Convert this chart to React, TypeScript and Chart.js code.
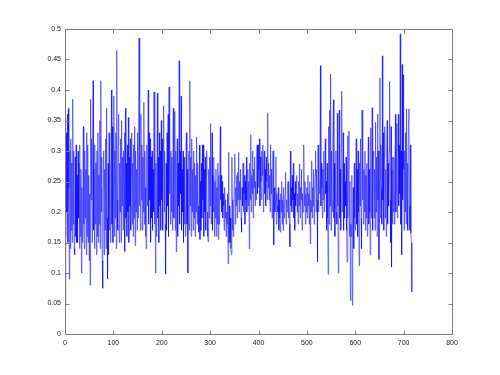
import React, { useEffect, useRef } from "react";
import { Chart, registerables } from "chart.js";

Chart.register(...registerables);

// Signal values, index 0..717 (in blocks of 20 samples)
const block00 = [0.05, 0.27, 0.16, 0.33, 0.2, 0.36, 0.15, 0.37, 0.24, 0.09, 0.3, 0.14, 0.32, 0.17, 0.28, 0.15, 0.385, 0.18, 0.3, 0.14];
const block01 = [0.13, 0.29, 0.16, 0.31, 0.15, 0.26, 0.15, 0.3, 0.19, 0.28, 0.14, 0.31, 0.16, 0.27, 0.1, 0.24, 0.15, 0.29, 0.34, 0.18];
const block02 = [0.14, 0.3, 0.19, 0.27, 0.13, 0.33, 0.16, 0.31, 0.15, 0.26, 0.12, 0.23, 0.08, 0.385, 0.22, 0.32, 0.15, 0.29, 0.415, 0.17];
const block03 = [0.27, 0.14, 0.31, 0.18, 0.28, 0.13, 0.3, 0.16, 0.33, 0.15, 0.26, 0.18, 0.35, 0.14, 0.415, 0.2, 0.29, 0.12, 0.075, 0.24];
const block04 = [0.3, 0.13, 0.27, 0.17, 0.32, 0.14, 0.37, 0.19, 0.09, 0.28, 0.13, 0.33, 0.17, 0.29, 0.15, 0.26, 0.4, 0.18, 0.34, 0.15];
const block05 = [0.25, 0.39, 0.16, 0.3, 0.19, 0.33, 0.14, 0.465, 0.22, 0.17, 0.31, 0.36, 0.15, 0.28, 0.2, 0.32, 0.15, 0.35, 0.21, 0.29];
const block06 = [0.17, 0.3, 0.22, 0.33, 0.135, 0.37, 0.19, 0.28, 0.16, 0.31, 0.2, 0.355, 0.15, 0.29, 0.21, 0.32, 0.17, 0.27, 0.33, 0.18];
const block07 = [0.28, 0.16, 0.31, 0.19, 0.34, 0.145, 0.3, 0.2, 0.27, 0.17, 0.33, 0.19, 0.3, 0.485, 0.21, 0.29, 0.17, 0.36, 0.22, 0.31];
const block08 = [0.17, 0.29, 0.2, 0.38, 0.18, 0.3, 0.24, 0.16, 0.14, 0.31, 0.21, 0.28, 0.4, 0.18, 0.33, 0.22, 0.32, 0.15, 0.29, 0.19];
const block09 = [0.3, 0.17, 0.27, 0.2, 0.397, 0.18, 0.375, 0.1, 0.28, 0.16, 0.31, 0.395, 0.19, 0.29, 0.15, 0.33, 0.21, 0.3, 0.17, 0.35];
const block10 = [0.22, 0.32, 0.17, 0.29, 0.374, 0.2, 0.3, 0.18, 0.098, 0.28, 0.17, 0.33, 0.21, 0.36, 0.16, 0.405, 0.23, 0.31, 0.18, 0.3];
const block11 = [0.2, 0.29, 0.17, 0.33, 0.37, 0.19, 0.28, 0.365, 0.17, 0.3, 0.135, 0.26, 0.32, 0.16, 0.28, 0.21, 0.448, 0.18, 0.3, 0.23];
const block12 = [0.39, 0.17, 0.27, 0.2, 0.3, 0.15, 0.29, 0.18, 0.26, 0.16, 0.31, 0.33, 0.18, 0.27, 0.1, 0.21, 0.3, 0.17, 0.415, 0.21];
const block13 = [0.29, 0.16, 0.32, 0.2, 0.27, 0.17, 0.3, 0.19, 0.28, 0.16, 0.26, 0.2, 0.323, 0.18, 0.28, 0.21, 0.18, 0.167, 0.31, 0.155];
const block14 = [0.25, 0.17, 0.28, 0.19, 0.31, 0.22, 0.31, 0.16, 0.27, 0.2, 0.29, 0.17, 0.26, 0.3, 0.2, 0.16, 0.151, 0.27, 0.19, 0.29];
const block15 = [0.21, 0.345, 0.18, 0.27, 0.33, 0.17, 0.26, 0.2, 0.29, 0.16, 0.25, 0.19, 0.27, 0.16, 0.24, 0.18, 0.28, 0.155, 0.26, 0.18];
const block16 = [0.28, 0.34, 0.22, 0.26, 0.2, 0.25, 0.19, 0.23, 0.21, 0.17, 0.24, 0.19, 0.22, 0.16, 0.2, 0.18, 0.23, 0.115, 0.298, 0.15];
const block17 = [0.21, 0.15, 0.19, 0.14, 0.13, 0.29, 0.17, 0.22, 0.16, 0.2, 0.25, 0.295, 0.18, 0.24, 0.21, 0.26, 0.19, 0.265, 0.22, 0.298];
const block18 = [0.2, 0.25, 0.22, 0.27, 0.19, 0.167, 0.24, 0.21, 0.28, 0.2, 0.23, 0.26, 0.18, 0.25, 0.22, 0.29, 0.2, 0.24, 0.27, 0.21];
const block19 = [0.25, 0.14, 0.28, 0.22, 0.327, 0.2, 0.26, 0.23, 0.3, 0.19, 0.27, 0.24, 0.29, 0.21, 0.25, 0.22, 0.28, 0.31, 0.23, 0.31];
const block20 = [0.24, 0.27, 0.32, 0.21, 0.29, 0.25, 0.22, 0.3, 0.26, 0.31, 0.2, 0.28, 0.3, 0.23, 0.27, 0.21, 0.29, 0.25, 0.22, 0.362];
const block21 = [0.24, 0.28, 0.22, 0.26, 0.2, 0.31, 0.23, 0.27, 0.19, 0.25, 0.3, 0.21, 0.146, 0.24, 0.2, 0.22, 0.29, 0.18, 0.23, 0.21];
const block22 = [0.2, 0.24, 0.17, 0.22, 0.19, 0.167, 0.23, 0.2, 0.25, 0.18, 0.22, 0.17, 0.24, 0.19, 0.21, 0.23, 0.265, 0.18, 0.22, 0.2];
const block23 = [0.24, 0.25, 0.19, 0.23, 0.18, 0.143, 0.3, 0.21, 0.24, 0.2, 0.26, 0.22, 0.28, 0.19, 0.23, 0.17, 0.25, 0.21, 0.24, 0.26];
const block24 = [0.2, 0.23, 0.18, 0.25, 0.21, 0.279, 0.19, 0.24, 0.22, 0.27, 0.17, 0.23, 0.2, 0.26, 0.31, 0.21, 0.25, 0.18, 0.23, 0.2];
const block25 = [0.24, 0.19, 0.26, 0.21, 0.23, 0.18, 0.25, 0.148, 0.22, 0.2, 0.284, 0.19, 0.24, 0.21, 0.27, 0.18, 0.23, 0.26, 0.3, 0.2];
const block26 = [0.27, 0.22, 0.118, 0.31, 0.2, 0.26, 0.23, 0.29, 0.44, 0.21, 0.28, 0.24, 0.19, 0.27, 0.22, 0.3, 0.2, 0.26, 0.32, 0.23];
const block27 = [0.25, 0.17, 0.28, 0.19, 0.098, 0.34, 0.18, 0.367, 0.21, 0.426, 0.17, 0.3, 0.22, 0.2, 0.32, 0.384, 0.19, 0.28, 0.16, 0.27];
const block28 = [0.3, 0.2, 0.18, 0.362, 0.21, 0.1, 0.29, 0.367, 0.19, 0.27, 0.17, 0.31, 0.398, 0.2, 0.26, 0.33, 0.17, 0.28, 0.19, 0.25];
const block29 = [0.21, 0.29, 0.17, 0.118, 0.325, 0.19, 0.27, 0.333, 0.16, 0.25, 0.055, 0.18, 0.16, 0.26, 0.047, 0.17, 0.24, 0.14, 0.28, 0.19];
const block30 = [0.17, 0.26, 0.32, 0.18, 0.27, 0.16, 0.3, 0.2, 0.112, 0.28, 0.21, 0.32, 0.19, 0.14, 0.367, 0.22, 0.3, 0.18, 0.27, 0.2];
const block31 = [0.3, 0.17, 0.26, 0.19, 0.28, 0.16, 0.25, 0.323, 0.18, 0.27, 0.2, 0.13, 0.338, 0.19, 0.26, 0.371, 0.17, 0.29, 0.3, 0.19];
const block32 = [0.27, 0.17, 0.347, 0.2, 0.29, 0.16, 0.36, 0.22, 0.3, 0.122, 0.25, 0.42, 0.19, 0.31, 0.24, 0.18, 0.456, 0.22, 0.33, 0.17];
const block33 = [0.29, 0.34, 0.19, 0.27, 0.16, 0.31, 0.35, 0.18, 0.28, 0.21, 0.3, 0.414, 0.22, 0.15, 0.34, 0.11, 0.27, 0.18, 0.29, 0.2];
const block34 = [0.29, 0.18, 0.27, 0.36, 0.2, 0.3, 0.345, 0.19, 0.28, 0.36, 0.21, 0.31, 0.23, 0.492, 0.18, 0.3, 0.13, 0.442, 0.22, 0.425];
const block35 = [0.27, 0.17, 0.3, 0.2, 0.33, 0.18, 0.369, 0.22, 0.28, 0.17, 0.35, 0.369, 0.21, 0.17, 0.31, 0.165, 0.15, 0.069];

const signal: number[] = [
  ...block00, ...block01, ...block02, ...block03, ...block04, ...block05,
  ...block06, ...block07, ...block08, ...block09, ...block10, ...block11,
  ...block12, ...block13, ...block14, ...block15, ...block16, ...block17,
  ...block18, ...block19, ...block20, ...block21, ...block22, ...block23,
  ...block24, ...block25, ...block26, ...block27, ...block28, ...block29,
  ...block30, ...block31, ...block32, ...block33, ...block34, ...block35,
];

const xTickValues = [0, 100, 200, 300, 400, 500, 600, 700, 800];
const yTickValues = [0, 0.05, 0.1, 0.15, 0.2, 0.25, 0.3, 0.35, 0.4, 0.45, 0.5];
const yTickLabels = ["0", "0.05", "0.1", "0.15", "0.2", "0.25", "0.3", "0.35", "0.4", "0.45", "0.5"];

const FONT = "'Liberation Sans', Arial, Helvetica, sans-serif";
const AXIS_COLOR = "#7f7f7f";

const framePlugin = {
  id: "matlabFrame",
  afterDraw(chart: any) {
    const { ctx, chartArea: a, scales } = chart;
    const L = Math.round(a.left) + 0.5;
    const R = Math.round(a.right) + 0.5;
    const T = Math.round(a.top) + 0.5;
    const B = Math.round(a.bottom) + 0.5;
    ctx.save();
    ctx.strokeStyle = AXIS_COLOR;
    ctx.lineWidth = 1;
    ctx.beginPath();
    ctx.rect(L, T, R - L, B - T);
    const len = 4;
    scales.x.ticks.forEach((t: any) => {
      const px = Math.round(scales.x.getPixelForValue(t.value)) + 0.5;
      ctx.moveTo(px, B);
      ctx.lineTo(px, B - len);
      ctx.moveTo(px, T);
      ctx.lineTo(px, T + len);
    });
    scales.y.ticks.forEach((t: any) => {
      const py = Math.round(scales.y.getPixelForValue(t.value)) + 0.5;
      ctx.moveTo(L, py);
      ctx.lineTo(L + len, py);
      ctx.moveTo(R, py);
      ctx.lineTo(R - len, py);
    });
    ctx.stroke();
    ctx.restore();
  },
};

export default function App() {
  const ref = useRef<HTMLCanvasElement | null>(null);

  useEffect(() => {
    if (!ref.current) return;
    const points = signal.map((v, i) => ({ x: i, y: v }));
    const chart = new Chart(ref.current, {
      type: "line",
      data: {
        datasets: [
          {
            data: points,
            borderColor: "rgb(0,0,255)",
            borderWidth: 0.5,
            pointRadius: 0,
            fill: false,
            tension: 0,
          },
        ],
      },
      options: {
        animation: false,
        responsive: false,
        devicePixelRatio: 1,
        events: [],
        layout: { padding: { top: 29, right: 48, left: 0, bottom: 0 } },
        plugins: { legend: { display: false }, tooltip: { enabled: false } },
        scales: {
          x: {
            type: "linear",
            min: 0,
            max: 800,
            grid: { display: false, drawTicks: false },
            border: { display: false },
            afterBuildTicks: (scale: any) => {
              scale.ticks = xTickValues.map((v) => ({ value: v }));
            },
            afterFit: (scale: any) => {
              scale.height = 41;
            },
            ticks: {
              padding: 5,
              maxRotation: 0,
              autoSkip: false,
              color: "#1a1a1a",
              font: { family: FONT, size: 7 },
              callback: (v: any) => String(v),
            },
          },
          y: {
            type: "linear",
            min: 0,
            max: 0.5,
            grid: { display: false, drawTicks: false },
            border: { display: false },
            afterBuildTicks: (scale: any) => {
              scale.ticks = yTickValues.map((v) => ({ value: v }));
            },
            afterFit: (scale: any) => {
              scale.width = 65;
            },
            ticks: {
              padding: 4,
              autoSkip: false,
              color: "#1a1a1a",
              font: { family: FONT, size: 7 },
              callback: (v: any) => {
                const idx = yTickValues.findIndex((t) => Math.abs(t - v) < 1e-9);
                return idx >= 0 ? yTickLabels[idx] : "";
              },
            },
          },
        },
      },
      plugins: [framePlugin],
    });
    return () => chart.destroy();
  }, []);

  return (
    <div style={{ position: "absolute", left: 0, top: 0, width: 500, height: 375, background: "#fff" }}>
      <canvas ref={ref} width={500} height={375} style={{ display: "block", width: 500, height: 375 }} />
    </div>
  );
}
